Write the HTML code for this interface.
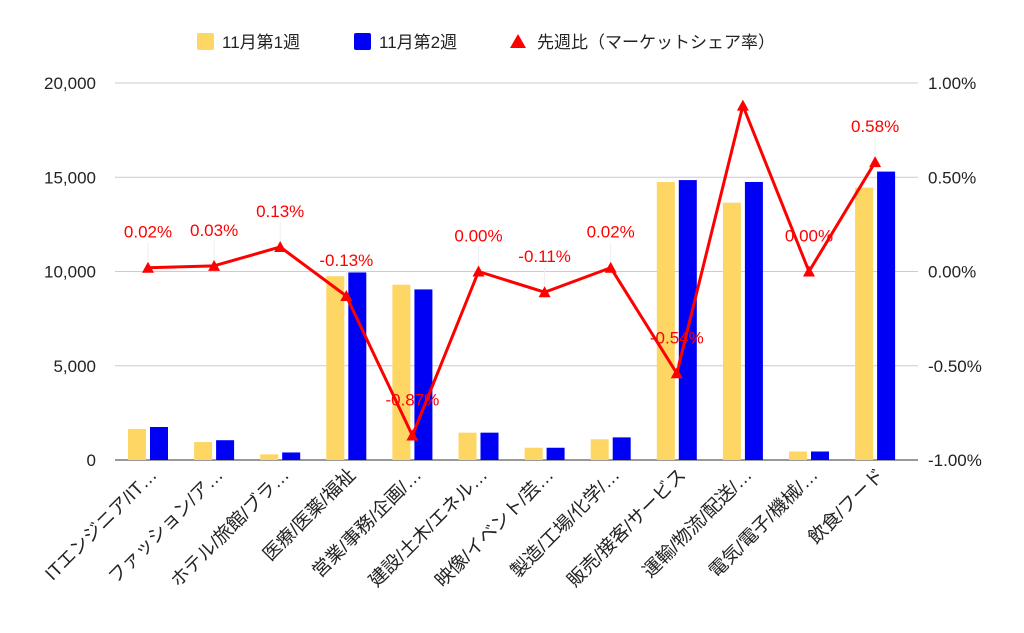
<!DOCTYPE html>
<html><head><meta charset="utf-8"><style>
body{margin:0;background:#fff;}
svg{display:block;font-family:"Liberation Sans","Noto Sans CJK JP",sans-serif;}
</style></head><body>
<svg id="c" width="1024" height="633">
<g>
<rect x="197" y="33" width="17" height="17" rx="2" fill="#fdd663"/>
<text x="222" y="48" font-size="17" fill="#222">11月第1週</text>
<rect x="354" y="33" width="17" height="17" rx="2" fill="#0000f5"/>
<text x="379" y="48" font-size="17" fill="#222">11月第2週</text>
<polygon points="518,34 526,48 510,48" fill="#f00"/>
<text x="537" y="48" font-size="17" fill="#222">先週比（マーケットシェア率）</text>
</g>
<g id="grid"></g><g id="bars"></g><g id="line"></g><g id="labels"></g>
</svg>
<script>
const categories=["ITエンジニア/IT…","ファッション/ア…","ホテル/旅館/ブラ…","医療/医薬/福祉","営業/事務/企画/…","建設/土木/エネル…","映像/イベント/芸…","製造/工場/化学/…","販売/接客/サービス","運輸/物流/配送/…","電気/電子/機械/…","飲食/フード"];
const week1=[1650,950,300,9750,9300,1450,650,1100,14750,13650,450,14450];
const week2=[1750,1050,400,9950,9050,1450,650,1200,14850,14750,450,15300];
const ratio=[0.02,0.03,0.13,-0.13,-0.87,0.00,-0.11,0.02,-0.54,0.88,0.00,0.58];
const showLabel=[true,true,true,true,true,true,true,true,true,false,true,true];
const leftTicks=[0,5000,10000,15000,20000];
const leftTickLabels=["0","5,000","10,000","15,000","20,000"];
const rightTicks=[-1,-0.5,0,0.5,1];
const rightTickLabels=["-1.00%","-0.50%","0.00%","0.50%","1.00%"];
const NS="http://www.w3.org/2000/svg";
const X0=115,X1=918,Y0=460,Y1=83;
const band=66.1;
const xc=i=>148+band*i;
const yL=v=>Y0-(v/20000)*(Y0-Y1);
const yR=v=>Y0-((v+1)/2)*(Y0-Y1);
function mk(t,a,p){const e=document.createElementNS(NS,t);for(const k in a)e.setAttribute(k,a[k]);p.appendChild(e);return e;}
const grid=document.getElementById('grid'),bars=document.getElementById('bars'),line=document.getElementById('line'),labels=document.getElementById('labels');
leftTicks.forEach((v,i)=>{
  const l=mk('line',{x1:X0,x2:X1,y1:yL(v),y2:yL(v),stroke:i==0?'#333':'#ccc','stroke-width':1},grid);
  
  
  const t=mk('text',{x:96,y:yL(v)+6,'text-anchor':'end','font-size':17,fill:'#222'},grid);t.textContent=leftTickLabels[i];
  
  
});
rightTicks.forEach((v,i)=>{
  const t=mk('text',{x:928,y:yR(v)+6,'font-size':17,fill:'#222'},grid);t.textContent=rightTickLabels[i];
  
  
});
const bw=18;
categories.forEach((c,i)=>{
  const b1=mk('rect',{x:xc(i)-bw-2,y:yL(week1[i]),width:bw,height:Y0-yL(week1[i]),fill:'#fdd663'},bars);
  
  
  const b2=mk('rect',{x:xc(i)+2,y:yL(week2[i]),width:bw,height:Y0-yL(week2[i]),fill:'#0000f5'},bars);
  
  
  const t=mk('text',{x:0,y:0,'text-anchor':'end','font-size':18.5,fill:'#222',transform:`translate(${xc(i)+10},${Y0+16}) rotate(-45)`},labels);
  t.textContent=c;
  
  
});
const pts=ratio.map((v,i)=>xc(i)+','+yR(v)).join(' ');
const pl=mk('polyline',{points:pts,fill:'none',stroke:'#f00','stroke-width':3,'stroke-linejoin':'round'},line);


ratio.forEach((v,i)=>{
  const x=xc(i),y=yR(v);
  const m=mk('polygon',{points:`${x},${y-6} ${x+6},${y+5} ${x-6},${y+5}`,fill:'#f00'},line);
  
  
  if(showLabel[i]){
    const ll=mk('line',{x1:x,x2:x,y1:y-6,y2:y-25,stroke:'#eee','stroke-width':1},labels);
    
    
    const t=mk('text',{x:x,y:y-30,'text-anchor':'middle','font-size':17,fill:'#f00'},labels);
    t.textContent=v.toFixed(2)+'%';
    
    
  }
});
</script>
</body></html>
